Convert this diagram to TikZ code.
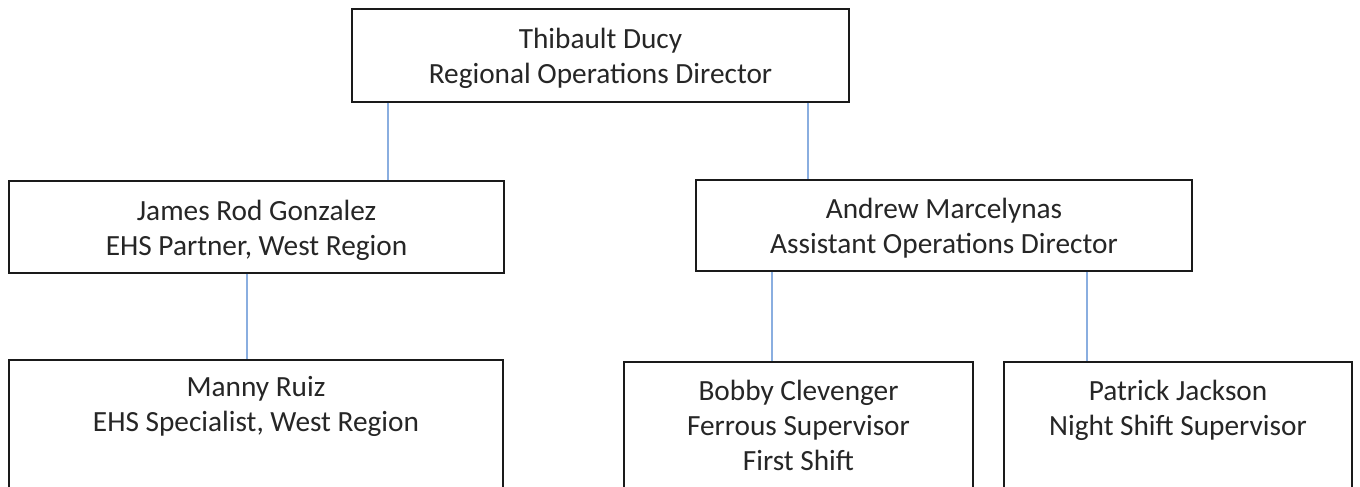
\documentclass[tikz,border=0pt]{standalone}
\usepackage{fontspec}
\setmainfont{Carlito}
\definecolor{connblue}{HTML}{8AAEE0}
\definecolor{boxline}{HTML}{1A1A1A}
\tikzset{
  orgbox/.style={draw=boxline, line width=1.6pt, rectangle, inner sep=0pt},
  orgtext/.style={inner sep=0pt, align=center, font=\fontsize{29.3}{35}\selectfont, text=black!85},
  conn/.style={draw=connblue, line width=1.5pt}
}
\begin{document}
\begin{tikzpicture}[x=1pt,y=-1pt]
\useasboundingbox (0,0) rectangle (1360,487);
\clip (0,0) rectangle (1360,487);
\fill[white] (0,0) rectangle (1360,487);
% boxes
\node[orgbox, minimum width=497pt, minimum height=93pt] (top) at (600.5,55.5) {};
\node[orgbox, minimum width=495pt, minimum height=92pt] (james) at (256.5,227) {};
\node[orgbox, minimum width=496pt, minimum height=91pt] (andrew) at (944,225.5) {};
\node[orgbox, minimum width=494pt, minimum height=170pt, anchor=north] (manny) at (256,359) {};
\node[orgbox, minimum width=349pt, minimum height=170pt, anchor=north] (bobby) at (798.5,361) {};
\node[orgbox, minimum width=348pt, minimum height=170pt, anchor=north] (patrick) at (1178,361) {};
% texts
\node[orgtext] (toptext) at ([yshift=-3pt]top.center) {Thibault Ducy\\Regional Operations Director};
\node[orgtext] (jamestext) at ([yshift=-3pt]james.center) {James Rod Gonzalez\\EHS Partner, West Region};
\node[orgtext] (andrewtext) at ([yshift=-3pt]andrew.center) {Andrew Marcelynas\\Assistant Operations Director};
\node[orgtext, anchor=north] (mannytext) at ([yshift=-17pt]manny.north)
  {Manny Ruiz\\EHS Specialist, West Region};
\node[orgtext, anchor=north] (bobbytext) at ([yshift=-19pt]bobby.north)
  {Bobby Clevenger\\Ferrous Supervisor\\First Shift};
\node[orgtext, anchor=north] (patricktext) at ([yshift=-19pt]patrick.north)
  {Patrick Jackson\\Night Shift Supervisor};
% connectors
\draw[conn] ([xshift=37pt]top.south west) -- ([xshift=37pt]top.south west |- james.north);
\draw[conn] ([xshift=457pt]top.south west) -- ([xshift=457pt]top.south west |- andrew.north);
\draw[conn] ([xshift=239pt]james.south west) -- ([xshift=239pt]james.south west |- manny.north);
\draw[conn] ([xshift=77pt]andrew.south west) -- ([xshift=77pt]andrew.south west |- bobby.north);
\draw[conn] ([xshift=392pt]andrew.south west) -- ([xshift=392pt]andrew.south west |- patrick.north);
\end{tikzpicture}
\end{document}
